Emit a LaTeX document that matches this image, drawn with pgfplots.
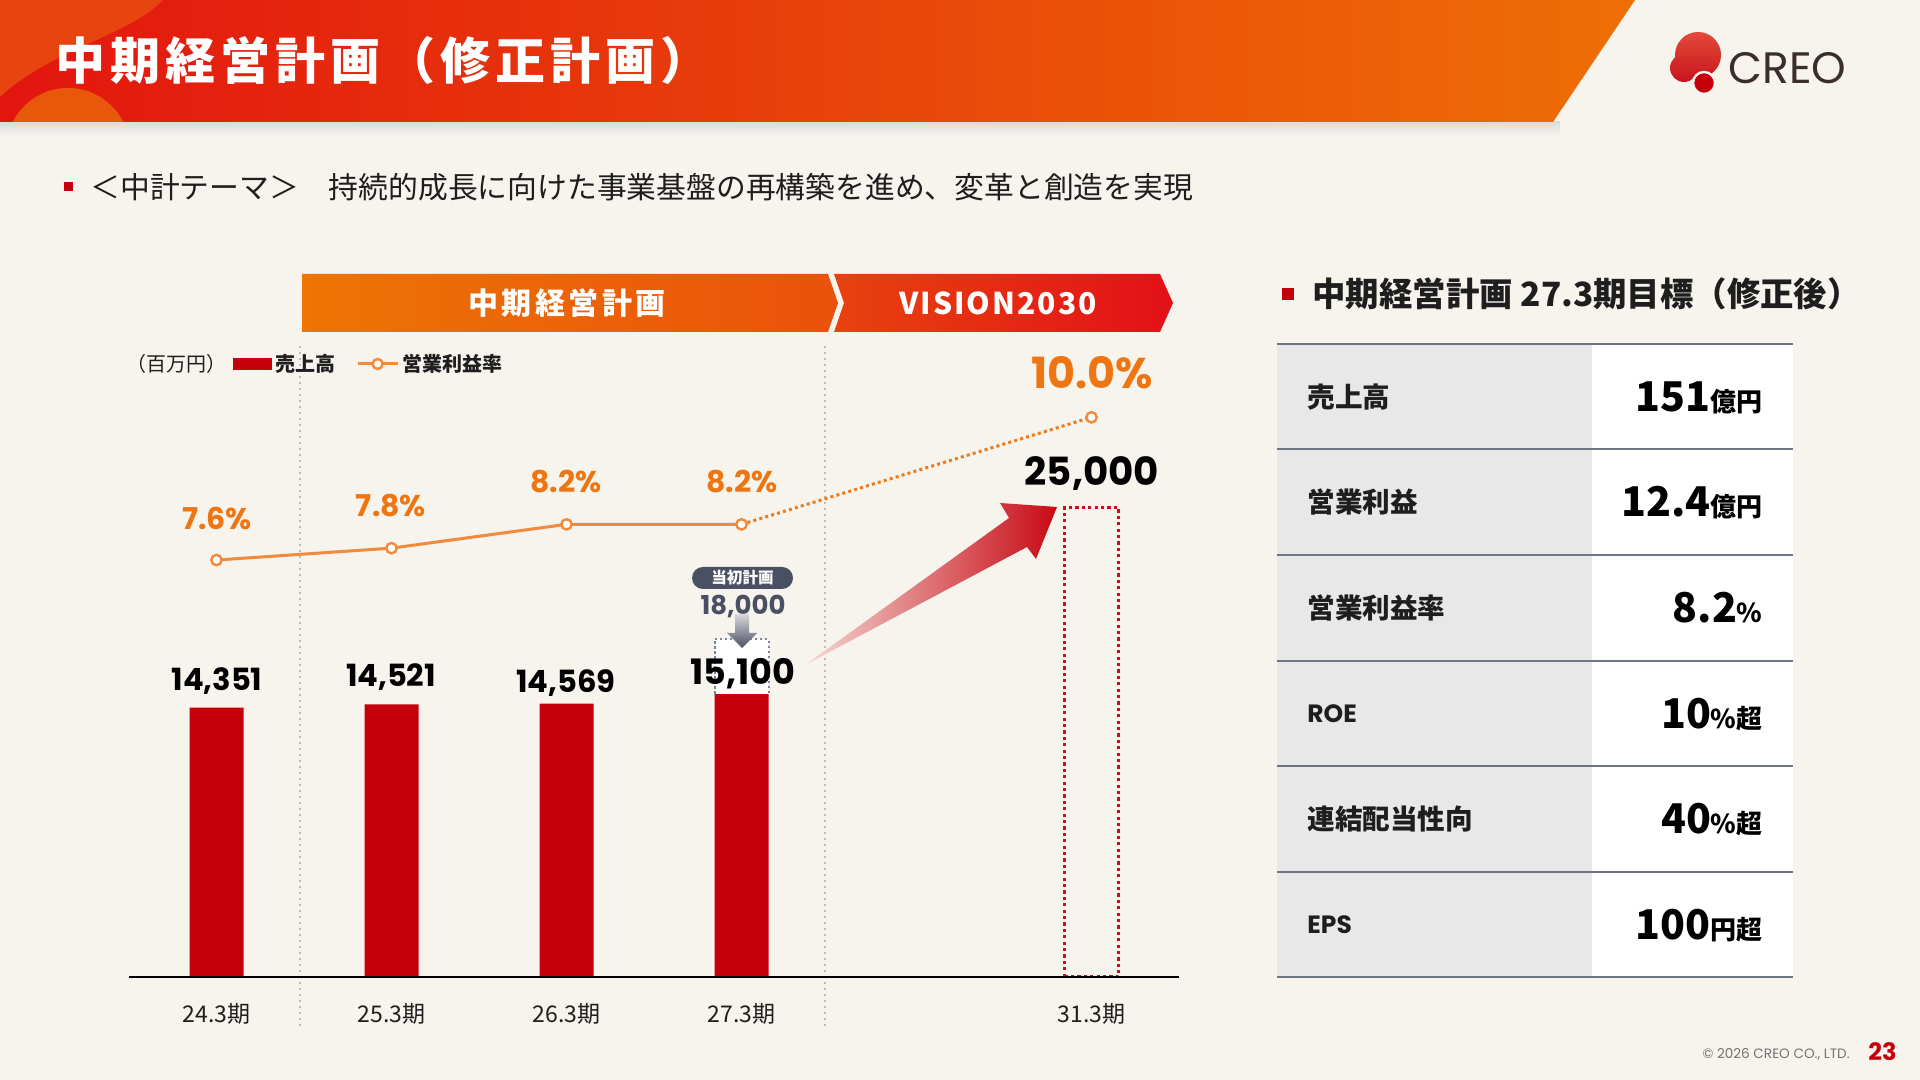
\documentclass[border=0pt]{standalone}
\usepackage{pgfplots}
\pgfplotsset{compat=1.18}
\usepackage{fontspec}
\setmainfont{Noto Sans CJK JP}
\newfontfamily\pop{Poppins}
\newcommand{\fs}[1]{\fontsize{#1}{#1}\selectfont}
\definecolor{bg}{HTML}{F7F3ED}
\definecolor{hdrred}{HTML}{E3150F}
\definecolor{hdrorange}{HTML}{EE6F05}
\definecolor{hdrtl}{HTML}{E8440F}
\definecolor{hdrdome}{HTML}{E8580B}
\definecolor{barred}{HTML}{C6000B}
\definecolor{boxred}{HTML}{C8101A}
\definecolor{lineor}{HTML}{F08A3C}
\definecolor{dotor}{HTML}{F07A1A}
\definecolor{pctor}{HTML}{EE7612}
\definecolor{plan}{HTML}{4A5064}
\definecolor{planbox}{HTML}{7C84A0}
\definecolor{tgrey}{HTML}{E8E8E8}
\definecolor{tline}{HTML}{6E7482}
\definecolor{txt}{HTML}{1E1E1E}
\definecolor{sep}{HTML}{BDBDBD}
\definecolor{bnor1}{HTML}{EE7404}
\definecolor{bnor2}{HTML}{E9520C}
\definecolor{bnrd1}{HTML}{E8420E}
\definecolor{bnrd2}{HTML}{E31018}
\definecolor{arrpale}{HTML}{F3D8D4}
\definecolor{arrred}{HTML}{C80A14}
\definecolor{logotop}{HTML}{E4493A}
\definecolor{logobot}{HTML}{C8141C}
\definecolor{creo}{HTML}{3A2E2C}
\begin{document}
\begin{tikzpicture}
\path[use as bounding box] (0,0) rectangle (960pt,540pt);
\fill[bg] (0,0) rectangle (960pt,540pt);
\begin{scope}[x=0.5pt,y=-0.5pt,shift={(0pt,540pt)}]
 % header
 \shade[top color=black!14, bottom color=bg] (0,122) rectangle (1560,136);
 \begin{scope}
  \clip (0,0) -- (1635,0) -- (1553,122) -- (0,122) -- cycle;
  \shade[left color=hdrred, right color=hdrorange] (0,0) rectangle (1640,122);
  \fill[hdrtl] (0,0) -- (163,0) .. controls (130,35) and (50,50) .. (0,97) -- cycle;
  \fill[hdrdome] (68,150) circle[radius=62];
 \end{scope}
 \node[anchor=west, inner sep=0, text=white, font={\fs{25}\bfseries\addfontfeature{LetterSpace=10}}] at (55,61) {中期経営計画（修正計画）};
 % logo
 \shade[top color=logotop, bottom color=logobot] (1698,55) circle[radius=23] (1684,68) circle[radius=14];
 \fill[barred, draw=bg, line width=1.2pt] (1704,83) circle[radius=11];
 \node[anchor=west, inner sep=0, text=creo, font={\pop\fs{22}}] at (1728,68) {CREO};
 % subtitle
 \fill[barred] (64,182) rectangle (73,191);
 \node[anchor=west, inner sep=0, text=txt, font=\fs{14.9}] at (90,187) {＜中計テーマ＞\hspace{15pt}持続的成長に向けた事業基盤の再構築を進め、変革と創造を実現};
 % banner
 \shade[left color=bnor1, right color=bnor2] (302,274) -- (828,274) -- (838,303) -- (828,332) -- (302,332) -- cycle;
 \shade[left color=bnrd1, right color=bnrd2] (834,274) -- (1160,274) -- (1173,303) -- (1160,332) -- (834,332) -- (844,303) -- cycle;
 \node[text=white, font={\fs{15}\bfseries\addfontfeature{LetterSpace=12}}] at (567,303) {中期経営計画};
 \node[text=white, font={\fs{15}\bfseries\addfontfeature{LetterSpace=7}}] at (998,303) {VISION2030};
 % legend unit
 \node[anchor=west, inner sep=0, text=txt, font=\fs{10}] at (126,364) {（百万円）};
 % separators
 \draw[sep, line width=0.8pt, dash pattern=on 1.2pt off 1.8pt] (300,346) -- (300,1028);
 \draw[sep, line width=0.8pt, dash pattern=on 1.2pt off 1.8pt] (825,346) -- (825,1028);
 % right panel
 \fill[barred] (1282,288) rectangle (1294,300);
 \node[anchor=west, inner sep=0, text=txt, font={\fs{16.7}\bfseries}] at (1312,294) {中期経営計画\hspace{4pt}27.3期目標（修正後）};
 \fill[tgrey] (1277,344) rectangle (1592,977);
 \fill[white] (1592,344) rectangle (1793,977);
 \foreach \yy in {344,449.5,555,661,766.5,872,977} \draw[tline, line width=1pt] (1277,\yy) -- (1793,\yy);
 \node[anchor=west, inner sep=0, text=txt, font={\fs{13.8}\bfseries}] at (1307,397) {売上高};
 \node[anchor=west, inner sep=0, text=txt, font={\fs{13.8}\bfseries}] at (1307,502) {営業利益};
 \node[anchor=west, inner sep=0, text=txt, font={\fs{13.8}\bfseries}] at (1307,608) {営業利益率};
 \node[anchor=west, inner sep=0, text=txt, font={\pop\bfseries\fs{12.5}}] at (1307,714) {ROE};
 \node[anchor=west, inner sep=0, text=txt, font={\fs{13.8}\bfseries}] at (1307,819) {連結配当性向};
 \node[anchor=west, inner sep=0, text=txt, font={\pop\bfseries\fs{12.5}}] at (1307,925) {EPS};
 \node[anchor=base east, inner sep=0, text=black] at (1763,412) {{\fs{20.5}\bfseries 151}{\fs{13}\bfseries 億円}};
 \node[anchor=base east, inner sep=0, text=black] at (1763,517) {{\fs{20.5}\bfseries 12.4}{\fs{13}\bfseries 億円}};
 \node[anchor=base east, inner sep=0, text=black] at (1763,623) {{\fs{20.5}\bfseries 8.2}{\fs{13}\bfseries \%}};
 \node[anchor=base east, inner sep=0, text=black] at (1763,729) {{\fs{20.5}\bfseries 10}{\fs{13}\bfseries \%超}};
 \node[anchor=base east, inner sep=0, text=black] at (1763,834) {{\fs{20.5}\bfseries 40}{\fs{13}\bfseries \%超}};
 \node[anchor=base east, inner sep=0, text=black] at (1763,940) {{\fs{20.5}\bfseries 100}{\fs{13}\bfseries 円超}};
 % footer
 \node[anchor=east, inner sep=0, text=black!55, font={\pop\fs{6.8}}] at (1850,1054) {© 2026 CREO CO., LTD.};
 \node[anchor=west, inner sep=0, text=barred, font={\pop\bfseries\fs{12}}] at (1868,1052) {23};
\end{scope}

% bars
\begin{axis}[
  at={(64.5pt,51.5pt)}, anchor=south west, scale only axis,
  width=525pt, height=319.1pt,
  xmin=-0.5, xmax=5.5, ymin=0, ymax=34000,
  axis line style={draw=none}, ytick=\empty,
  xtick={0,1,2,3,5},
  xticklabels={24.3期,25.3期,26.3期,27.3期,31.3期},
  major tick length=0pt, xtick style={draw=none},
  xticklabel style={font=\fs{11.5}, text=txt, anchor=center, yshift=-18.5pt},
  clip=false,
]
\addplot[ybar, bar width=27pt, bar shift=0pt, fill=barred, draw=none] coordinates {(0,14351) (1,14521) (2,14569) (3,15100)};
\addplot[ybar, bar width=27pt, bar shift=0pt, fill=none, draw=boxred, line width=1.5pt, dash pattern=on 1.6pt off 1.6pt] coordinates {(5,25000)};
\fill[white] ([xshift=-13.5pt]axis cs:3,15100) rectangle ([xshift=13.5pt]axis cs:3,18000);
\draw[planbox, line width=1pt, dash pattern=on 1.2pt off 1.3pt] ([xshift=-13.5pt]axis cs:3,15100) -- ([xshift=-13.5pt]axis cs:3,18000) -- ([xshift=13.5pt]axis cs:3,18000) -- ([xshift=13.5pt]axis cs:3,15100);
\draw[black, line width=1pt] (axis cs:-0.5,0) -- (axis cs:5.5,0);
\end{axis}

% operating margin
\begin{axis}[
  at={(64.5pt,51.5pt)}, anchor=south west, scale only axis,
  width=525pt, height=319.1pt,
  xmin=-0.5, xmax=5.5, ymin=0.59, ymax=11.32,
  hide axis, clip=false,
  legend columns=2,
  legend style={at={(0.099,0.9605)}, anchor=west, draw=none, fill=none, inner sep=0pt,
    font={\fs{10}\bfseries}, text=txt, nodes={inner sep=1.5pt},
    /tikz/every even column/.append style={column sep=9pt}},
]
\addplot[dotor, line width=1.5pt, dash pattern=on 1.5pt off 1.6pt, forget plot] coordinates {(3,8.2) (5,10.0)};
\addplot[lineor, line width=1.5pt, mark=*, mark size=2.6pt, mark options={fill=white, draw=lineor, line width=1.2pt, solid}, forget plot] coordinates {(0,7.6) (1,7.8) (2,8.2) (3,8.2)};
\addplot[only marks, mark=*, mark size=2.6pt, mark options={fill=white, draw=lineor, line width=1.2pt}, forget plot] coordinates {(5,10.0)};
\addlegendimage{legend image code/.code={\fill[barred] (0pt,-2.75pt) rectangle (19pt,2.75pt);}}
\addlegendentry{売上高}
\addlegendimage{legend image code/.code={\draw[lineor, line width=1.5pt] (0pt,0pt) -- (20pt,0pt); \draw[lineor, fill=white, line width=1.2pt] (10pt,0pt) circle[radius=2.5pt];}}
\addlegendentry{営業利益率}
\end{axis}

\begin{scope}[x=0.5pt,y=-0.5pt,shift={(0pt,540pt)}]
 % big arrow
 \shade[left color=arrpale, right color=arrred] (805,665) -- (1009,518) -- (1000,503) -- (1057,507) -- (1036,559) -- (1027,547) -- cycle;
 % plan badge
 \fill[plan, rounded corners=5.5pt] (692,567) rectangle (793,589);
 \node[text=white, font={\fs{7.8}\bfseries}] at (742.5,578) {当初計画};
 \node[text=plan, font={\pop\bfseries\fs{13}}] at (743,607) {18,000};
 \shade[top color=black!15, bottom color=plan] (735,614) -- (749,614) -- (749,633) -- (757,633) -- (742,648) -- (727,633) -- (735,633) -- cycle;
 % bar labels
 \node[text=black, font={\pop\bfseries\fs{15.3}}] at (217,681) {14,351};
 \node[text=black, font={\pop\bfseries\fs{15.3}}] at (391,677) {14,521};
 \node[text=black, font={\pop\bfseries\fs{15.3}}] at (566,683) {14,569};
 \node[text=black, font={\pop\bfseries\fs{17.5}}] at (743,674) {15,100};
 \node[text=black, font={\pop\bfseries\fs{19.4}}] at (1092,474) {25,000};
 % pct labels
 \node[text=pctor, font={\pop\bfseries\fs{15}}] at (217,518) {7.6\%};
 \node[text=pctor, font={\pop\bfseries\fs{15}}] at (391,506) {7.8\%};
 \node[text=pctor, font={\pop\bfseries\fs{15}}] at (566,482) {8.2\%};
 \node[text=pctor, font={\pop\bfseries\fs{15}}] at (742,482) {8.2\%};
 \node[text=pctor, font={\pop\bfseries\fs{21.5}}] at (1092,373) {10.0\%};
\end{scope}
\end{tikzpicture}
\end{document}
